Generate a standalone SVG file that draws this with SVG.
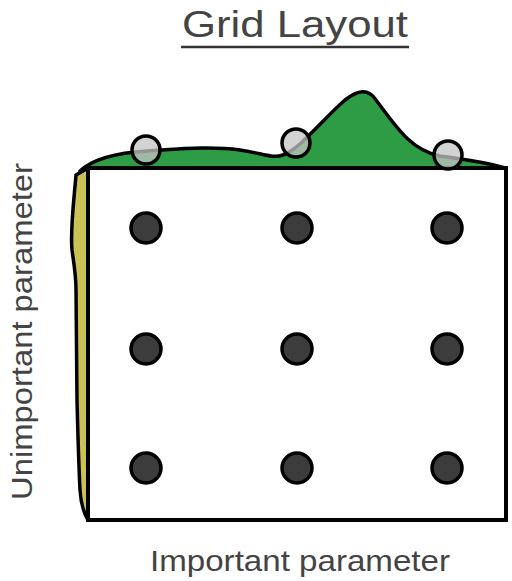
<svg xmlns="http://www.w3.org/2000/svg" width="512" height="581" viewBox="0 0 512 581">
<style>
.lbl{font-family:"Liberation Sans","DejaVu Sans",sans-serif;fill:#444;}
.dot{fill:#3c3c3c;stroke:#000;stroke-width:3.5;}
.ring{fill:#c4c4c4;fill-opacity:0.75;stroke:#000;stroke-width:3.5;}
.dist{stroke:#000;stroke-width:3.5;stroke-linejoin:round;}
</style>
<rect width="512" height="581" fill="#fff"/>
<g id="title">
<text class="lbl" x="182" y="37" font-size="37" textLength="226" lengthAdjust="spacingAndGlyphs">Grid Layout</text>
<line x1="181" y1="47" x2="409" y2="47" stroke="#333" stroke-width="2.5"/>
</g>
<g id="important-dist">
<path class="dist" fill="#2e9c44" d="M 80,171 C 92,160 112,153 147,151 C 180,149 210,146 240,150 C 262,153 272,159 283,155 C 300,149 322,120 345,100 C 358,90 368,88 376,100 C 395,125 410,150 440,156 C 470,160 490,163 505,168 L 88,168 Z"/>
</g>
<g id="unimportant-dist">
<path class="dist" fill="#c9c256" d="M 88,168 L 76,175 C 74,200 70,230 72,250 C 74,265 76,275 76,290 L 77,400 C 78,440 79,470 80,490 C 81,505 85,515 88,520 Z"/>
</g>
<g id="grid-box">
<rect x="88" y="168" width="418" height="352" fill="#fff" stroke="#000" stroke-width="4"/>
</g>
<g id="projections">
<circle class="ring" cx="146" cy="150" r="14"/>
<circle class="ring" cx="296" cy="143" r="14"/>
<circle class="ring" cx="448" cy="155" r="14"/>
</g>
<g id="grid-points">
<circle class="dot" cx="146" cy="228" r="15"/>
<circle class="dot" cx="297" cy="228" r="15"/>
<circle class="dot" cx="447" cy="228" r="15"/>
<circle class="dot" cx="146" cy="349" r="15"/>
<circle class="dot" cx="297" cy="349" r="15"/>
<circle class="dot" cx="447" cy="349" r="15"/>
<circle class="dot" cx="146" cy="468" r="15"/>
<circle class="dot" cx="297" cy="468" r="15"/>
<circle class="dot" cx="447" cy="468" r="15"/>
</g>
<g id="axis-labels">
<text class="lbl" x="150" y="571" font-size="30" textLength="300" lengthAdjust="spacingAndGlyphs">Important parameter</text>
<text class="lbl" transform="translate(32,500) rotate(-90)" x="0" y="0" font-size="30" textLength="337" lengthAdjust="spacingAndGlyphs">Unimportant parameter</text>
</g>
</svg>
